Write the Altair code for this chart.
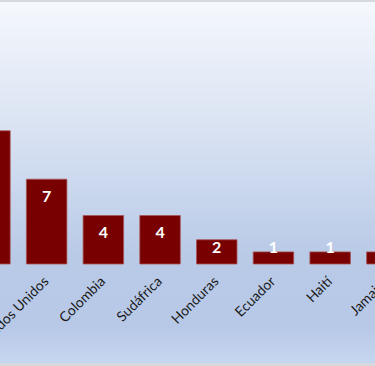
import altair as alt
import pandas as pd

paises = ["México", "Estados Unidos", "Colombia", "Sudáfrica", "Honduras", "Ecuador", "Haití", "Jamaica"]
valores = [11, 7, 4, 4, 2, 1, 1, 1]

df = pd.DataFrame({"pais": paises, "valor": valores})

x_enc = alt.X("pais:N", sort=paises,
              scale=alt.Scale(range=[-30.3, 407.1], paddingInner=0.286, paddingOuter=0),
              axis=alt.Axis(title=None, labelAngle=-45, labelAlign="right", labelBaseline="middle",
                            labelFontSize=14, labelFont="Lato", labelColor="#1a1a1a",
                            domain=False, ticks=False, labelPadding=15, grid=False,
                            labelOverlap=False, zindex=2))
y_scale = alt.Scale(domain=[0, 21.8], nice=False, zero=True)

bg = alt.Chart(alt.Data(values=[{}])).mark_rect(
    fill=alt.Gradient(
        gradient="linear",
        stops=[
            alt.GradientStop(color="#f5f8fd", offset=0),
            alt.GradientStop(color="#dbe4f3", offset=0.33),
            alt.GradientStop(color="#b9cae7", offset=0.70),
            alt.GradientStop(color="#b8c9e8", offset=0.90),
            alt.GradientStop(color="#c6d6ef", offset=1),
        ],
        x1=0, x2=0, y1=0, y2=1,
    )
).encode(x=alt.value(0), x2=alt.value(375), y=alt.value(2), y2=alt.value(363))

bars = alt.Chart(df).mark_bar(color="#780000", stroke="#a85454", strokeWidth=0.8).encode(
    x=x_enc,
    y=alt.Y("valor:Q", scale=y_scale, axis=None),
)

labels = alt.Chart(df).transform_calculate(
    pos="max(datum.valor, 2.77)"
).mark_text(color="white", fontWeight="bold", fontSize=16, font="Lato",
            baseline="middle", dy=17.5).encode(
    x=alt.X("pais:N", sort=paises),
    y=alt.Y("pos:Q", scale=y_scale, axis=None),
    text="valor:Q",
)

chart = alt.layer(bg, bars, labels).properties(
    width=375, height=264,
    autosize=alt.AutoSizeParams(type="none"),
    padding={"left": 0, "top": 0, "right": 0, "bottom": 102},
    background="#d8d9dd",
).configure_view(stroke=None, fill=None)

chart.save("out.html", embed_options={"renderer": "svg", "actions": False})
